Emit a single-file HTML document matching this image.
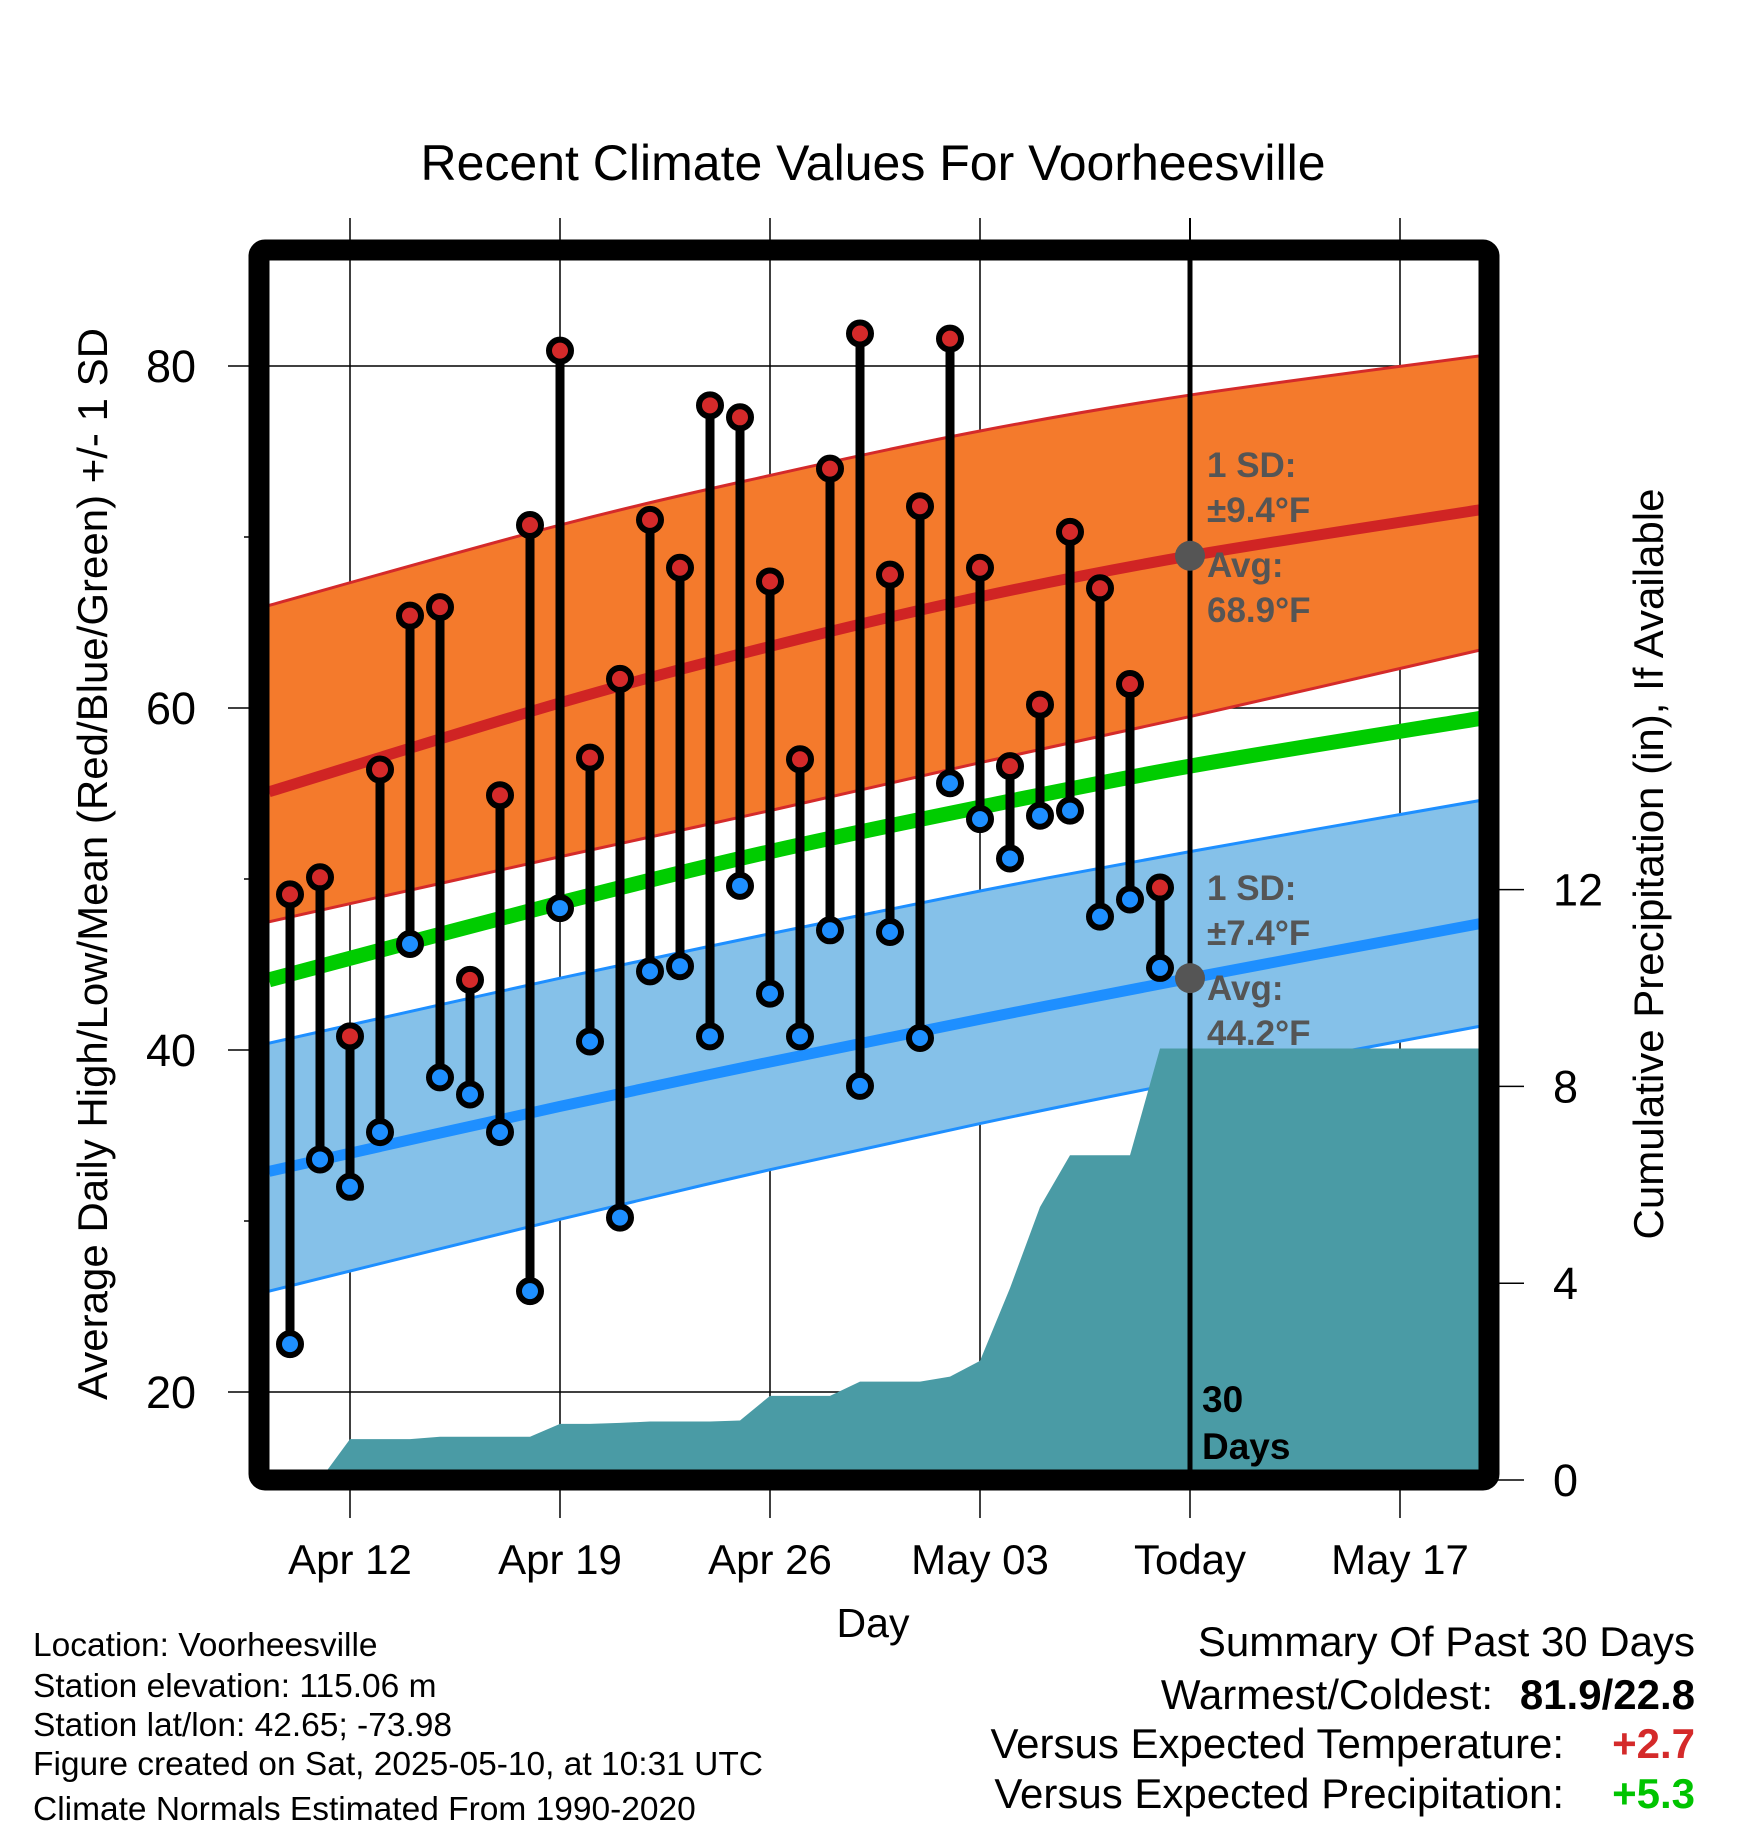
<!DOCTYPE html>
<html><head><meta charset="utf-8"><style>
html,body{margin:0;padding:0;background:#fff;}
svg{display:block;font-family:"Liberation Sans",sans-serif;}
</style></head><body>
<svg id="chart" width="1748" height="1828" viewBox="0 0 1748 1828" xmlns="http://www.w3.org/2000/svg">
<defs><clipPath id="plotclip"><rect x="269" y="260" width="1210" height="1210"/></clipPath></defs>
<text x="873" y="180" font-size="50" text-anchor="middle">Recent Climate Values For Voorheesville</text>
<g id="grid"></g>
<g id="plot" clip-path="url(#plotclip)"></g>
<rect x="259" y="250" width="1230" height="1230" fill="none" stroke="#000" stroke-width="21" rx="6"/>
<g id="axes"></g>
<text transform="translate(107,864) rotate(-90)" font-size="42" text-anchor="middle">Average Daily High/Low/Mean (Red/Blue/Green) +/- 1 SD</text>
<text transform="translate(1663,864) rotate(-90)" font-size="42" text-anchor="middle">Cumulative Precipitation (in), If Available</text>
<text x="873" y="1637" font-size="41" text-anchor="middle">Day</text>
<g font-size="33.5">
<text x="33" y="1656">Location: Voorheesville</text>
<text x="33" y="1697">Station elevation: 115.06 m</text>
<text x="33" y="1736">Station lat/lon: 42.65; -73.98</text>
<text x="33" y="1775">Figure created on Sat, 2025-05-10, at 10:31 UTC</text>
<text x="33" y="1820">Climate Normals Estimated From 1990-2020</text>
</g>
<g font-size="42">
<text x="1695" y="1656" text-anchor="end">Summary Of Past 30 Days</text>
<text x="1493" y="1709" text-anchor="end">Warmest/Coldest:</text>
<text x="1695" y="1709" text-anchor="end" font-weight="bold">81.9/22.8</text>
<text x="1564" y="1758" text-anchor="end">Versus Expected Temperature:</text>
<text x="1695" y="1758" text-anchor="end" font-weight="bold" fill="#d42a2a">+2.7</text>
<text x="1564" y="1808" text-anchor="end">Versus Expected Precipitation:</text>
<text x="1695" y="1808" text-anchor="end" font-weight="bold" fill="#00c400">+5.3</text>
</g>
</svg>
<script>
// days relative to Apr 12 (0 = Apr 12)
const obsDays = [-2,-1,0,1,2,3,4,5,6,7,8,9,10,11,12,13,14,15,16,17,18,19,20,21,22,23,24,25,26,27];
const highs = [49.1,50.1,40.8,56.4,65.4,65.9,44.1,54.9,70.7,80.9,57.1,61.7,71.0,68.2,77.7,77.0,67.4,57.0,74.0,81.9,67.8,71.8,81.6,68.2,56.6,60.2,70.3,67.0,61.4,49.5];
const lows = [22.8,33.6,32.0,35.2,46.2,38.4,37.4,35.2,25.9,48.3,40.5,30.2,44.6,44.9,40.8,49.6,43.3,40.8,47.0,37.9,46.9,40.7,55.6,53.5,51.2,53.7,54.0,47.8,48.8,44.8];
const precipDays = [-1,0,1,2,3,4,5,6,7,8,9,10,11,12,13,14,15,16,17,18,19,20,21,22,23,24,25,26,27,28,38];
const precip = [0,0.83,0.83,0.83,0.88,0.88,0.88,0.88,1.14,1.14,1.16,1.19,1.19,1.19,1.21,1.71,1.71,1.71,2.0,2.0,2.0,2.1,2.42,3.9,5.55,6.6,6.6,6.6,8.77,8.77,8.77];
const normDays = [-2.7,7,14,21,28,37.7];
const hiUpper = [66.0,70.7,73.6,76.2,78.3,80.6];
const hiMean = [55.1,60.3,63.6,66.5,68.9,71.6];
const hiLower = [47.5,51.3,54.0,56.8,59.5,63.4];
const meanNorm = [44.1,48.6,51.6,54.2,56.6,59.4];
const loUpper = [40.4,44.2,46.8,49.3,51.6,54.6];
const loMean = [32.9,36.7,39.3,41.8,44.2,47.4];
const loLower = [25.9,30.1,33.0,35.7,38.2,41.4];
const xTickDays = [0,7,14,21,28,35];
const xTickLabels = ["Apr 12","Apr 19","Apr 26","May 03","Today","May 17"];
const yTicks = [20,40,60,80];
const yMinor = [30,50,70];
const y2Ticks = [0,4,8,12];

const NS="http://www.w3.org/2000/svg";
const xs = d => 350 + 30*d;
const ys = t => 366 + (80 - t)*17.1;
const yp = p => 1480 - p*49.2;
function mk(tag, attrs, parent){const e=document.createElementNS(NS,tag);for(const k in attrs)e.setAttribute(k,attrs[k]);parent.appendChild(e);return e;}
const plot=document.getElementById('plot'), grid=document.getElementById('grid'), axes=document.getElementById('axes');

function smooth(arr){
  const P=normDays.map((d,i)=>[xs(d),ys(arr[i])]);
  let s='M'+P[0][0]+','+P[0][1];
  for(let i=0;i<P.length-1;i++){
    const p0=P[Math.max(0,i-1)],p1=P[i],p2=P[i+1],p3=P[Math.min(P.length-1,i+2)];
    const c1=[p1[0]+(p2[0]-p0[0])/6,p1[1]+(p2[1]-p0[1])/6];
    const c2=[p2[0]-(p3[0]-p1[0])/6,p2[1]-(p3[1]-p1[1])/6];
    s+=' C'+c1[0]+','+c1[1]+' '+c2[0]+','+c2[1]+' '+p2[0]+','+p2[1];
  }
  return s;
}
function smoothRev(arr){
  const P=normDays.map((d,i)=>[xs(d),ys(arr[i])]).reverse();
  let s='';
  for(let i=0;i<P.length-1;i++){
    const p0=P[Math.max(0,i-1)],p1=P[i],p2=P[i+1],p3=P[Math.min(P.length-1,i+2)];
    const c1=[p1[0]+(p2[0]-p0[0])/6,p1[1]+(p2[1]-p0[1])/6];
    const c2=[p2[0]-(p3[0]-p1[0])/6,p2[1]-(p3[1]-p1[1])/6];
    s+=' C'+c1[0]+','+c1[1]+' '+c2[0]+','+c2[1]+' '+p2[0]+','+p2[1];
  }
  return {start:P[0],s:s};
}
function band(up,lo,fill,name){
  const r=smoothRev(lo);
  const p=mk('path',{d:smooth(up)+' L'+r.start[0]+','+r.start[1]+r.s+' Z',fill:fill},plot);
  
  
}
band(hiUpper,hiLower,'#f47a2c','high-sd-band');
band(loUpper,loLower,'#85c1e9','low-sd-band');
[[hiUpper,'#d42a2a',3,'high-upper-line'],[hiLower,'#d42a2a',3,'high-lower-line'],[loUpper,'#1e8fff',3,'low-upper-line'],[loLower,'#1e8fff',3,'low-lower-line'],[hiMean,'#d02424',11,'high-mean-line'],[meanNorm,'#00cc00',15,'mean-normal-line'],[loMean,'#1e8fff',11,'low-mean-line']].forEach(([a,c,w,n])=>{
  const l=mk('path',{d:smooth(a),fill:'none',stroke:c,'stroke-width':w},plot);
  
  
});
// precipitation area
{
  let pts=[xs(precipDays[0])+','+yp(0)];
  precipDays.forEach((d,i)=>pts.push(xs(d)+','+yp(precip[i])));
  pts.push(xs(precipDays[precipDays.length-1])+','+yp(0));
  const a=mk('polygon',{points:pts.join(' '),fill:'#4a9ba5'},plot);
  
  
}
// gridlines
yTicks.forEach(t=>{
  const l=mk('line',{x1:228,x2:1480,y1:ys(t),y2:ys(t),stroke:'#000','stroke-width':1.5},grid);
  
  
  const tx=mk('text',{x:196,y:ys(t)+16,'font-size':45,'text-anchor':'end'},axes);
  tx.textContent=t;
  
  
});
yMinor.forEach(t=>{
  const l=mk('line',{x1:244,x2:252,y1:ys(t),y2:ys(t),stroke:'#000','stroke-width':1.5},grid);
  
  
});
xTickDays.forEach((d,i)=>{
  const l=mk('line',{x1:xs(d),x2:xs(d),y1:218,y2:1518,stroke:'#000','stroke-width':1.5},grid);
  
  
  const tx=mk('text',{x:xs(d),y:1574,'font-size':42,'text-anchor':'middle'},axes);
  tx.textContent=xTickLabels[i];
  
  
});
y2Ticks.forEach(p=>{
  const l=mk('line',{x1:1498,x2:1524,y1:yp(p),y2:yp(p),stroke:'#000','stroke-width':1.5},axes);
  
  
  const tx=mk('text',{x:1553,y:yp(p)+16,'font-size':45},axes);
  tx.textContent=p;
  
  
});
// stems and dots
obsDays.forEach((d,i)=>{
  const s=mk('line',{x1:xs(d),x2:xs(d),y1:ys(highs[i]),y2:ys(lows[i]),stroke:'#000','stroke-width':9},plot);
  
  
});
obsDays.forEach((d,i)=>{
  const h=mk('circle',{cx:xs(d),cy:ys(highs[i]),r:11,fill:'#d42a2a',stroke:'#000','stroke-width':6},plot);
  
  
  const l=mk('circle',{cx:xs(d),cy:ys(lows[i]),r:11,fill:'#1e8fff',stroke:'#000','stroke-width':6},plot);
  
  
});
// today line and annotations
{
  const t=mk('line',{x1:xs(28),x2:xs(28),y1:250,y2:1470,stroke:'#000','stroke-width':5},plot);
  
  
  const t2=mk('line',{x1:xs(28),x2:xs(28),y1:218,y2:250,stroke:'#000','stroke-width':2},grid);
  
  
  const d1=mk('circle',{cx:xs(28),cy:ys(hiMean[4]),r:15,fill:'#555'},plot);
  
  
  const d2=mk('circle',{cx:xs(28),cy:ys(loMean[4]),r:15,fill:'#555'},plot);
  
  
  const ann=[["1 SD:",477],["±9.4°F",522],["Avg:",577],["68.9°F",622],["1 SD:",900],["±7.4°F",945],["Avg:",1000],["44.2°F",1045]];
  ann.forEach(([s,y])=>{
    const tx=mk('text',{x:1207,y:y,'font-size':35,'font-weight':'bold',fill:'#555'},plot);
    tx.textContent=s;
    
    
  });
  [["30",1412],["Days",1459]].forEach(([s,y])=>{
    const tx=mk('text',{x:1202,y:y,'font-size':37,'font-weight':'bold',fill:'#000'},plot);
    tx.textContent=s;
    
    
  });
}
</script>
</body></html>
